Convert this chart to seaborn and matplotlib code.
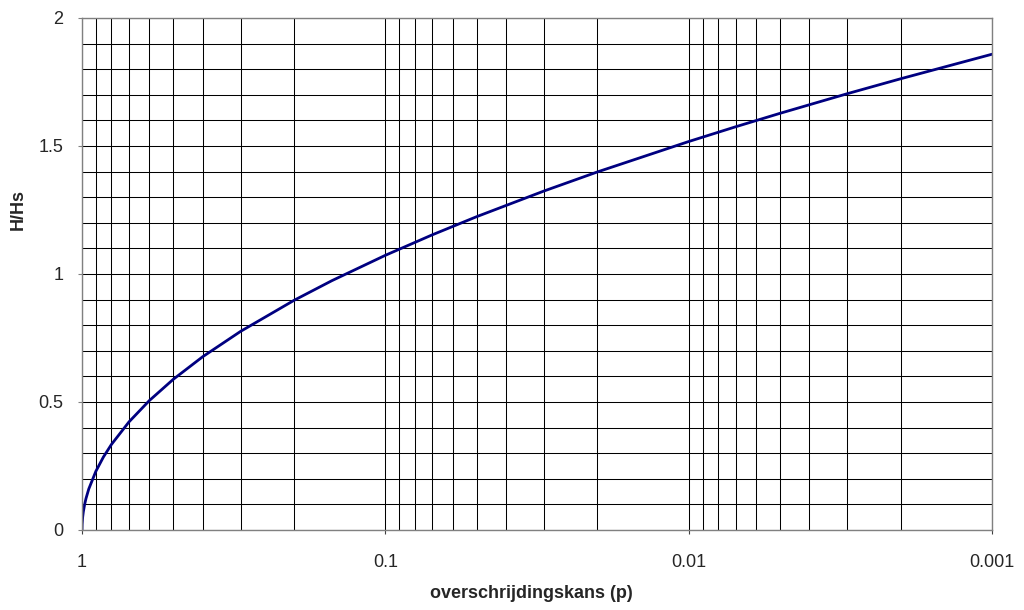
import matplotlib
matplotlib.use("Agg")
import matplotlib.pyplot as plt
import matplotlib.ticker as mticker
import seaborn as sns
import pandas as pd

p_values = [1.0, 0.999, 0.995, 0.99, 0.98, 0.97, 0.95, 0.9, 0.85, 0.8, 0.7, 0.6, 0.5,
            0.4, 0.3, 0.2, 0.15, 0.1, 0.07, 0.05, 0.03, 0.02, 0.01, 0.007, 0.005,
            0.003, 0.002, 0.001]
h_ratio = [0.0, 0.0224, 0.0501, 0.0709, 0.1005, 0.1234, 0.1601, 0.2295, 0.2851, 0.3340,
           0.4223, 0.5054, 0.5887, 0.6769, 0.7759, 0.8971, 0.9740, 1.0730, 1.1531,
           1.2239, 1.3241, 1.3986, 1.5174, 1.5751, 1.6276, 1.7043, 1.7627, 1.8585]
x_ticks = [1, 0.1, 0.01, 0.001]
x_tick_labels = ["1", "0.1", "0.01", "0.001"]
y_ticks = [0, 0.5, 1, 1.5, 2]
y_tick_labels = ["0", "0.5", "1", "1.5", "2"]

sns.set_style("white")
plt.rcParams['font.family'] = ['Liberation Sans', 'DejaVu Sans']

df = pd.DataFrame({"p": p_values, "H": h_ratio})

fig = plt.figure(figsize=(10.24, 6.1), dpi=100)
ax = fig.add_axes([82/1024, 80/610, 910/1024, 512/610])

ax.set_xscale("log")
ax.set_xlim(1, 0.001)
ax.set_ylim(0, 2)

ax.xaxis.set_major_locator(mticker.FixedLocator(x_ticks))
ax.xaxis.set_major_formatter(mticker.FixedFormatter(x_tick_labels))
ax.xaxis.set_minor_locator(mticker.LogLocator(base=10, subs=[2, 3, 4, 5, 6, 7, 8, 9], numticks=20))
ax.xaxis.set_minor_formatter(mticker.NullFormatter())
ax.yaxis.set_major_locator(mticker.FixedLocator(y_ticks))
ax.yaxis.set_major_formatter(mticker.FixedFormatter(y_tick_labels))
ax.yaxis.set_minor_locator(mticker.MultipleLocator(0.1))

ax.grid(True, which="both", color="black", linewidth=0.75)
ax.set_axisbelow(True)

sns.lineplot(data=df, x="p", y="H", ax=ax, color="#000080", linewidth=2.0,
             sort=False, estimator=None)

for s in ax.spines.values():
    s.set_color("#808080")
    s.set_linewidth(1.0)

ax.tick_params(axis="x", which="major", length=3, color="#404040",
               labelsize=13, direction="out", bottom=True, pad=14)
ax.tick_params(axis="y", which="major", length=3, color="#808080",
               labelsize=13, direction="out", left=True, pad=10.5)
ax.tick_params(axis="both", which="minor", length=0)

ax.set_xlabel("overschrijdingskans (p)", fontsize=13, fontweight="bold")
ax.set_ylabel("H/Hs", fontsize=13, fontweight="bold")
ax.xaxis.label.set_va("center")
ax.yaxis.label.set_va("center")
ax.xaxis.set_label_coords((531 - 82) / 910, (530 - 594) / 512)
ax.yaxis.set_label_coords((18 - 82) / 910, (530 - 210) / 512)

fig.savefig("out.png", dpi=100)
